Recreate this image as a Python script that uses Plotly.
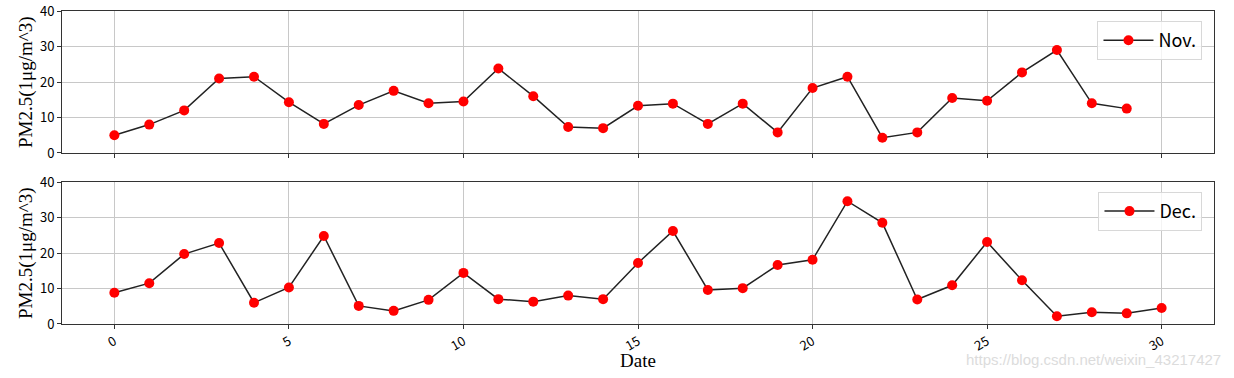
import plotly.graph_objects as go
from plotly.subplots import make_subplots

days_nov = list(range(30))
nov_values = [5.0, 8.0, 12.0, 21.0, 21.5, 14.3, 8.2, 13.5, 17.5, 14.0,
              14.5, 23.8, 16.0, 7.3, 7.0, 13.3, 13.9, 8.2, 13.9, 5.8,
              18.3, 21.5, 4.3, 5.8, 15.5, 14.7, 22.7, 29.0, 14.0, 12.5]
days_dec = list(range(31))
dec_values = [8.8, 11.5, 19.7, 22.8, 6.0, 10.3, 24.8, 5.1, 3.7, 6.8,
              14.4, 7.0, 6.3, 8.0, 7.0, 17.2, 26.2, 9.6, 10.1, 16.6,
              18.1, 34.6, 28.5, 6.9, 10.9, 23.1, 12.3, 2.2, 3.3, 3.0, 4.5]
x_ticks = [0, 5, 10, 15, 20, 25, 30]
y_ticks = [0, 10, 20, 30, 40]

tick_font = dict(family="Noto Sans CJK SC", size=13, color="black")
serif = "Liberation Serif"
title_font = dict(family=serif, size=19, color="black")

fig = make_subplots(rows=2, cols=1, shared_xaxes=True, vertical_spacing=0.0927)

fig.add_trace(go.Scatter(x=days_nov, y=nov_values, mode="lines+markers", name="Nov.",
                         line=dict(color="#222222", width=1.5),
                         marker=dict(color="red", size=10, line=dict(width=0)),
                         legend="legend"), row=1, col=1)
fig.add_trace(go.Scatter(x=days_dec, y=dec_values, mode="lines+markers", name="Dec.",
                         line=dict(color="#222222", width=1.5),
                         marker=dict(color="red", size=10, line=dict(width=0)),
                         legend="legend2"), row=2, col=1)

for r in (1, 2):
    fig.update_xaxes(range=[-1.5, 31.5], tickvals=x_ticks, showgrid=True, gridcolor="#c8c8c8",
                     gridwidth=1, showline=True, linecolor="#333333", linewidth=1, mirror=True,
                     ticks="outside", ticklen=4, tickcolor="#333333", tickfont=tick_font,
                     zeroline=False, automargin=False, row=r, col=1)
    fig.update_yaxes(range=[0, 40], tickvals=y_ticks, showgrid=True, gridcolor="#c8c8c8",
                     gridwidth=1, showline=True, linecolor="#333333", linewidth=1, mirror=True,
                     ticks="outside", ticklen=4, tickcolor="#333333", tickfont=tick_font,
                     zeroline=False, automargin=False, row=r, col=1)

fig.update_xaxes(showticklabels=False, row=1, col=1)
fig.update_xaxes(showticklabels=True, tickangle=-30, row=2, col=1)

# axis titles placed as annotations for precise positioning
for yref in ("y domain", "y2 domain"):
    fig.add_annotation(text="PM2.5(1μg/m^3)", xref="paper", yref=yref, x=0, y=0.5,
                       xshift=-36, textangle=-90, xanchor="center", yanchor="middle",
                       showarrow=False, font=title_font)
fig.add_annotation(text="Date", xref="paper", yref="paper", x=0.5, y=0,
                   yshift=-36, xanchor="center", yanchor="middle", showarrow=False,
                   font=title_font)

legend_style = dict(xanchor="right", yanchor="top", bgcolor="rgba(255,255,255,0.8)",
                    bordercolor="#d8d8d8", borderwidth=1, itemwidth=50,
                    font=dict(family="Noto Sans CJK SC", size=18, color="black"))
fig.update_layout(
    width=1234, height=378,
    margin=dict(l=62, r=20, t=11, b=54),
    plot_bgcolor="white", paper_bgcolor="white",
    showlegend=True,
    legend=dict(x=0.990, y=0.968, **legend_style),
    legend2=dict(x=0.990, y=0.422, **legend_style),
)

fig.add_annotation(text="https://blog.csdn.net/weixin_43217427", xref="paper", yref="paper",
                   x=1.008, y=0, yshift=-35, xanchor="right", yanchor="middle", showarrow=False,
                   font=dict(family="Liberation Sans", size=15, color="#dcdcdc"))

fig.write_html("out.html", config={"displayModeBar": False},
               post_script="document.body.style.margin='0';")
